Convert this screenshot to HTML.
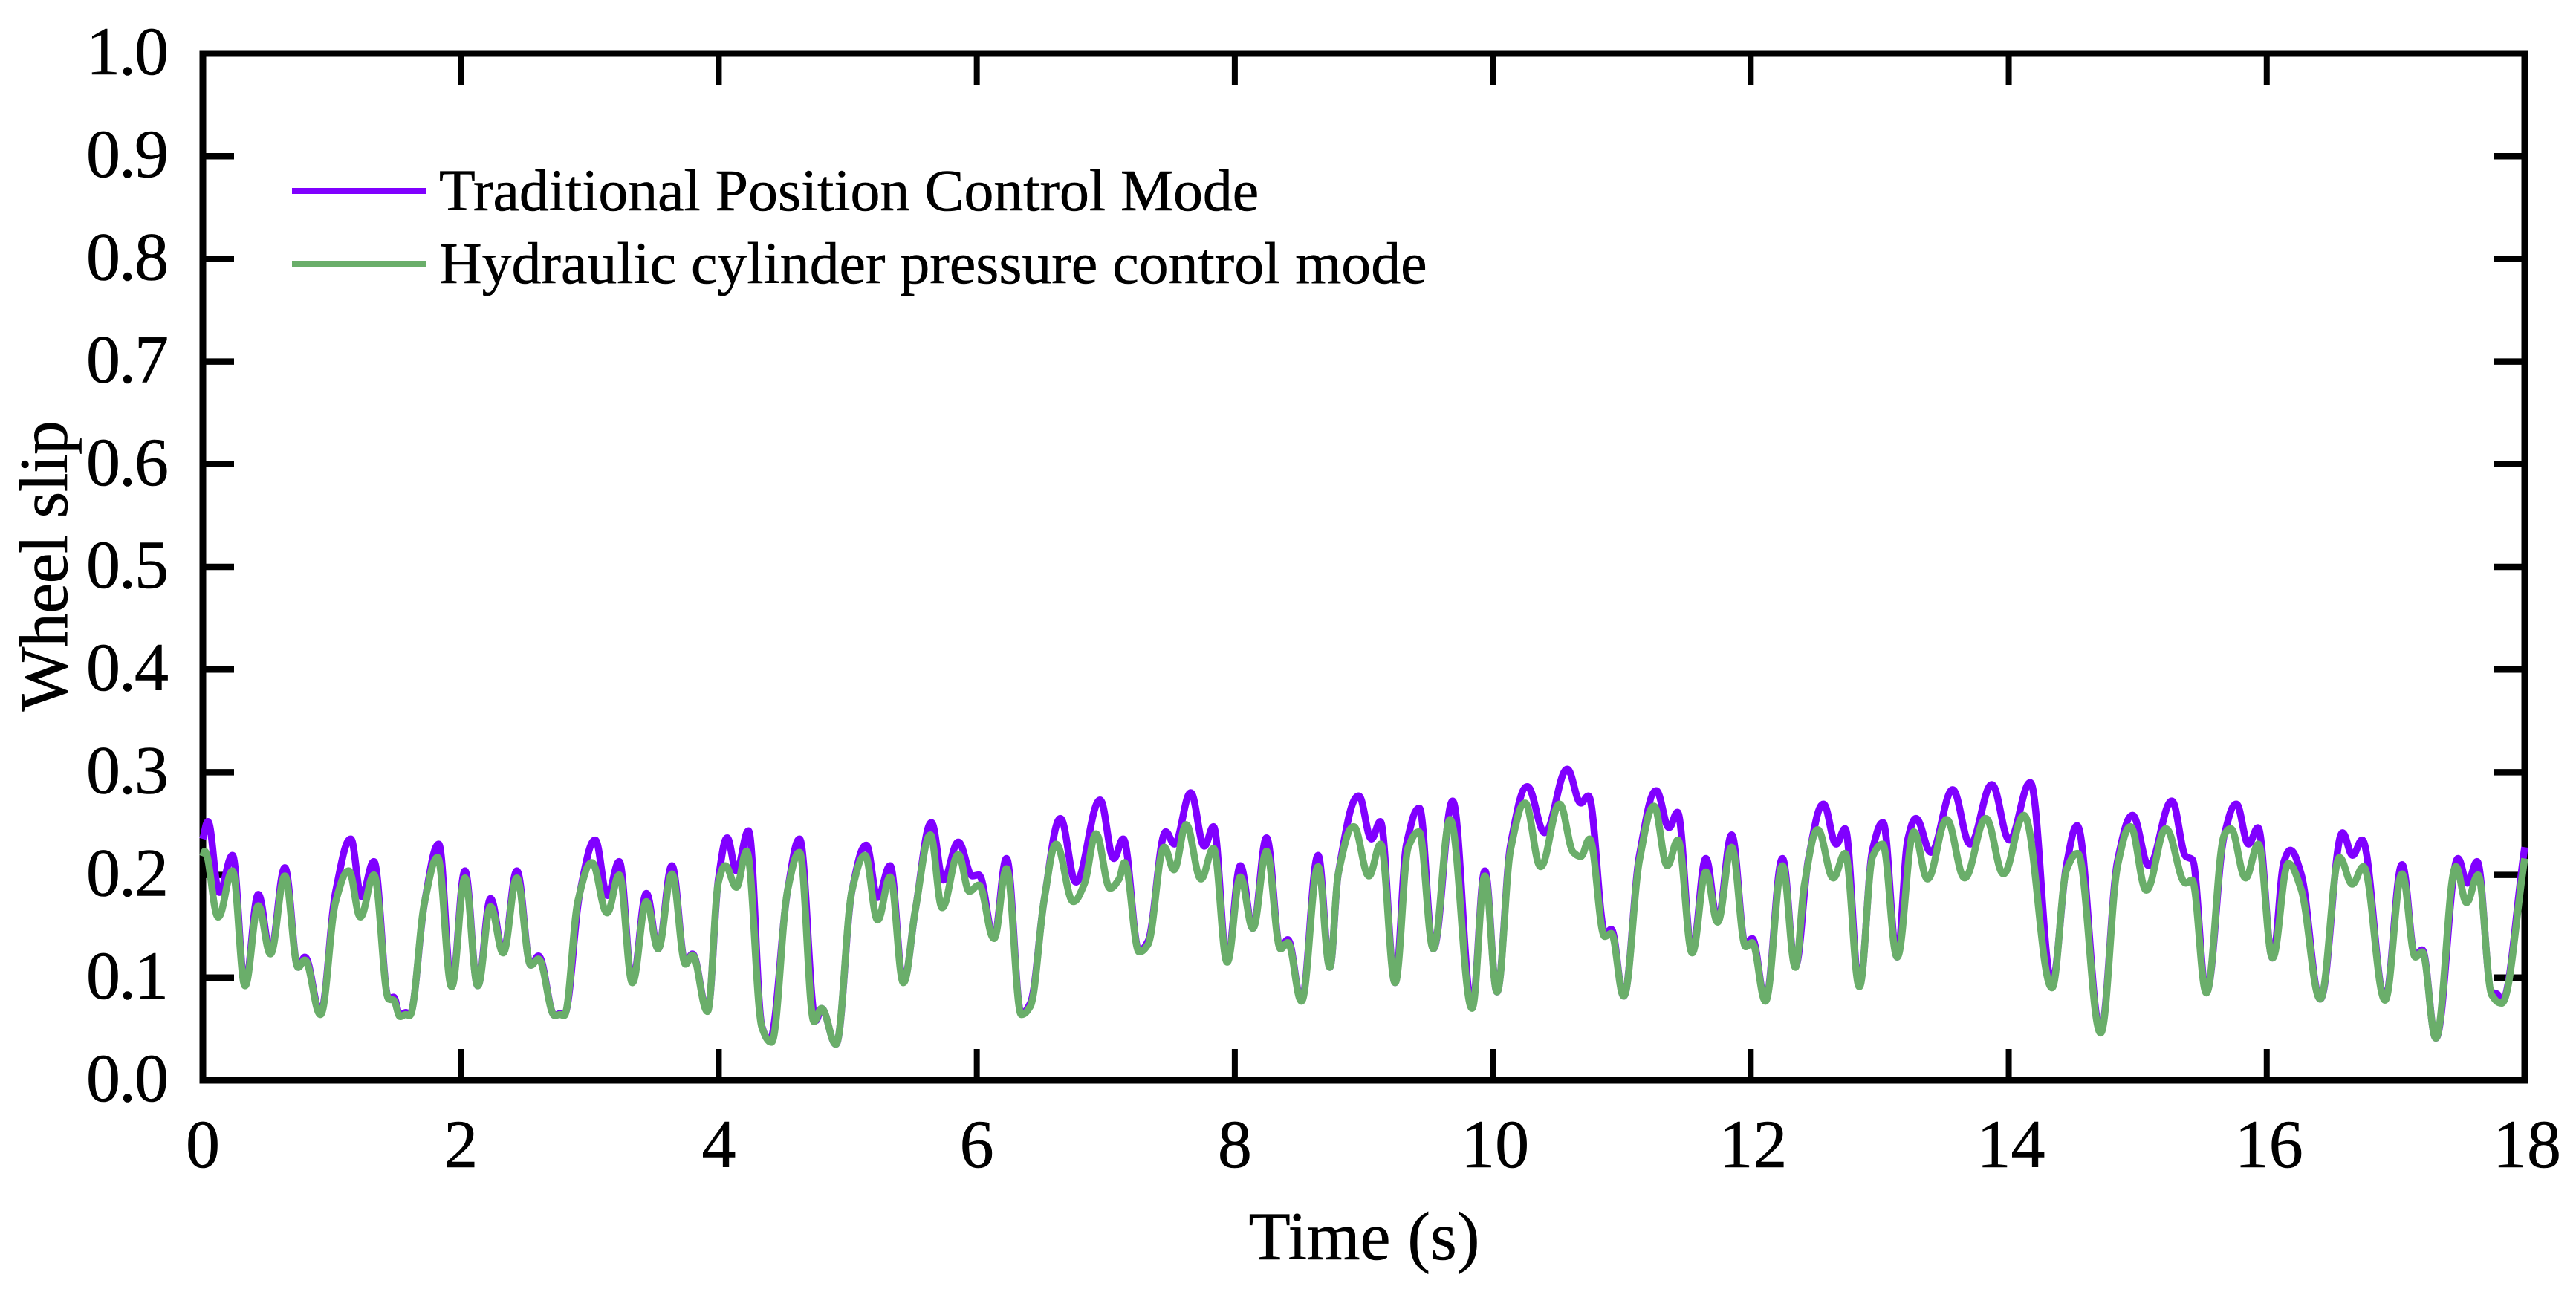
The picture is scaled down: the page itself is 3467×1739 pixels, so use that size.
<!DOCTYPE html>
<html lang="en">
<head>
<meta charset="utf-8">
<title>Wheel slip over time</title>
<style>
  html, body { margin: 0; padding: 0; background: #ffffff; }
  #chart { display: block; width: 3467px; height: 1739px; }
  text { font-family: "Liberation Serif", serif; fill: #000000; stroke: #000000; stroke-width: 0.6px; }
</style>
</head>
<body>
<svg id="chart" xmlns="http://www.w3.org/2000/svg" width="3467" height="1739" viewBox="0 0 3467 1739">
  <rect x="0" y="0" width="3467" height="1739" fill="#ffffff"/>
  <g id="axes"></g>
  <g id="series"></g>
  <g id="legend"></g>
  <text x="1836" y="1695" font-size="92" text-anchor="middle">Time (s)</text>
  <text transform="translate(90 762) rotate(-90)" font-size="92" letter-spacing="-0.5" text-anchor="middle">Wheel slip</text>
</svg>
<script>
const xTickValues = [0, 2, 4, 6, 8, 10, 12, 14, 16, 18];
const xTickLabels = ['0', '2', '4', '6', '8', '10', '12', '14', '16', '18'];
const yTickValues = [0, 0.1, 0.2, 0.3, 0.4, 0.5, 0.6, 0.7, 0.8, 0.9, 1];
const yTickLabels = ['0.0', '0.1', '0.2', '0.3', '0.4', '0.5', '0.6', '0.7', '0.8', '0.9', '1.0'];
const seriesNames = ['Traditional Position Control Mode', 'Hydraulic cylinder pressure control mode'];

const traditionalTime = [0,.039,.127,.230,.327,.430,.524,.636,.739,.791,.912,1.03,1.147,1.229,1.326,1.441,1.479,1.529,1.573,1.603,1.72,1.829,1.929,2.032,2.131,2.231,2.328,2.434,2.543,2.602,2.728,2.769,2.801,2.925,3.042,3.136,3.228,3.330,3.439,3.530,3.636,3.742,3.795,3.912,3.997,4.065,4.136,4.230,4.335,4.394,4.535,4.626,4.752,4.796,4.908,5.034,5.143,5.231,5.328,5.431,5.525,5.648,5.740,5.857,5.966,6.016,6.133,6.230,6.345,6.415,6.524,6.648,6.768,6.956,7.062,7.135,7.259,7.326,7.465,7.532,7.658,7.764,7.835,7.941,8.043,8.140,8.246,8.355,8.411,8.517,8.646,8.737,8.802,8.961,9.060,9.128,9.243,9.331,9.431,9.539,9.689,9.839,9.939,10.033,10.139,10.268,10.403,10.577,10.683,10.741,10.874,10.918,11.015,11.138,11.267,11.367,11.432,11.546,11.652,11.743,11.852,11.961,12.011,12.114,12.246,12.346,12.446,12.563,12.663,12.731,12.842,12.945,13.025,13.135,13.218,13.281,13.397,13.565,13.701,13.869,14.005,14.167,14.335,14.448,14.530,14.712,14.845,14.960,15.086,15.264,15.373,15.423,15.532,15.671,15.764,15.859,15.932,16.045,16.134,16.183,16.266,16.415,16.587,16.666,16.739,16.917,17.049,17.152,17.205,17.311,17.483,17.555,17.631,17.744,17.787,17.820,18];
const traditionalSlip = [.235,.252,.183,.219,.093,.181,.125,.207,.110,.120,.066,.184,.235,.179,.213,.080,.081,.063,.066,.064,.174,.230,.092,.204,.092,.177,.125,.204,.112,.121,.063,.065,.064,.184,.234,.180,.213,.096,.182,.128,.209,.114,.123,.068,.196,.236,.204,.243,.052,.039,.186,.235,.058,.070,.035,.186,.229,.178,.209,.096,.167,.251,.195,.232,.199,.200,.139,.216,.065,.075,.177,.255,.193,.273,.216,.235,.126,.135,.242,.230,.280,.228,.247,.116,.209,.148,.236,.128,.137,.078,.219,.110,.201,.277,.235,.252,.095,.230,.265,.128,.272,.072,.204,.086,.230,.286,.241,.303,.270,.277,.142,.147,.082,.220,.282,.246,.261,.125,.216,.155,.239,.131,.138,.078,.216,.111,.215,.269,.230,.245,.092,.225,.251,.120,.235,.255,.222,.283,.230,.288,.234,.290,.095,.210,.248,.048,.215,.258,.209,.272,.218,.215,.086,.239,.269,.230,.246,.119,.213,.224,.201,.079,.241,.219,.234,.079,.210,.121,.127,.041,.216,.192,.213,.086,.084,.076,.227];

const hydraulicTime = [0,.015,.119,.230,.327,.430,.524,.636,.739,.791,.912,1.03,1.132,1.221,1.326,1.441,1.479,1.529,1.573,1.603,1.72,1.820,1.929,2.032,2.131,2.231,2.328,2.434,2.543,2.602,2.728,2.769,2.801,2.91,3.016,3.134,3.228,3.330,3.439,3.530,3.636,3.742,3.795,3.912,3.997,4.050,4.136,4.215,4.335,4.408,4.535,4.626,4.738,4.796,4.908,5.034,5.134,5.231,5.328,5.431,5.525,5.640,5.731,5.857,5.942,6.016,6.133,6.230,6.345,6.415,6.524,6.615,6.748,6.833,6.924,7.033,7.103,7.144,7.259,7.326,7.453,7.529,7.623,7.738,7.835,7.941,8.043,8.140,8.246,8.355,8.411,8.517,8.646,8.737,8.802,8.922,9.040,9.131,9.243,9.345,9.428,9.539,9.669,9.839,9.939,10.033,10.139,10.251,10.371,10.518,10.624,10.683,10.750,10.868,10.918,11.015,11.138,11.250,11.353,11.435,11.546,11.652,11.743,11.852,11.961,12.011,12.114,12.246,12.346,12.416,12.519,12.640,12.731,12.842,12.945,13.022,13.135,13.264,13.370,13.519,13.658,13.823,13.959,14.117,14.335,14.448,14.534,14.712,14.845,14.944,15.066,15.218,15.373,15.420,15.532,15.671,15.721,15.836,15.935,16.045,16.167,16.266,16.415,16.564,16.663,16.749,16.917,17.049,17.152,17.205,17.311,17.466,17.549,17.638,17.744,17.820,18];
const hydraulicSlip = [.218,.223,.159,.204,.092,.170,.123,.199,.110,.117,.064,.174,.204,.159,.200,.079,.078,.062,.064,.063,.174,.217,.091,.197,.092,.169,.124,.197,.112,.118,.063,.064,.063,.176,.212,.163,.200,.095,.174,.128,.201,.113,.122,.067,.193,.209,.188,.223,.051,.037,.186,.222,.057,.070,.035,.186,.219,.156,.198,.095,.167,.239,.168,.220,.184,.190,.138,.206,.064,.072,.177,.230,.174,.191,.240,.187,.196,.212,.125,.132,.227,.205,.249,.196,.226,.115,.198,.148,.223,.128,.134,.077,.208,.110,.201,.247,.199,.230,.095,.227,.242,.128,.254,.070,.199,.086,.225,.270,.208,.269,.222,.218,.235,.140,.143,.082,.215,.267,.209,.234,.124,.203,.154,.227,.130,.134,.077,.209,.110,.191,.244,.197,.221,.091,.218,.230,.120,.242,.196,.254,.197,.255,.201,.258,.090,.205,.221,.046,.210,.247,.185,.245,.192,.195,.085,.239,.245,.197,.230,.119,.211,.186,.079,.217,.191,.208,.078,.201,.120,.125,.041,.208,.173,.200,.083,.075,.216];

const SVG_NS = 'http://www.w3.org/2000/svg';
const plotLeft = 273, plotRight = 3398, plotTop = 72, plotBottom = 1454;
const xMin = 0, xMax = 18, yMin = 0, yMax = 1;

function xScale(v) { return plotLeft + (v - xMin) / (xMax - xMin) * (plotRight - plotLeft); }
function yScale(v) { return plotBottom - (v - yMin) / (yMax - yMin) * (plotBottom - plotTop); }

function makeEl(tag, parent) {
  const el = document.createElementNS(SVG_NS, tag);
  parent.appendChild(el);
  return el;
}

function smoothPath(ts, vs) {
  const px = ts.map(xScale);
  const py = vs.map(yScale);
  const n = px.length;
  const slope = [];
  for (let i = 0; i < n - 1; i++) slope.push((py[i + 1] - py[i]) / (px[i + 1] - px[i]));
  const tan = new Array(n).fill(0);
  tan[0] = slope[0];
  tan[n - 1] = slope[n - 2];
  for (let i = 1; i < n - 1; i++) {
    if (slope[i - 1] * slope[i] > 0) {
      tan[i] = 2 * slope[i - 1] * slope[i] / (slope[i - 1] + slope[i]);
    }
  }
  let d = 'M' + px[0].toFixed(1) + ' ' + py[0].toFixed(1);
  for (let i = 0; i < n - 1; i++) {
    const h = (px[i + 1] - px[i]) * 0.38;
    d += 'C' + (px[i] + h).toFixed(1) + ' ' + (py[i] + tan[i] * h).toFixed(1) + ' ' +
         (px[i + 1] - h).toFixed(1) + ' ' + (py[i + 1] - tan[i + 1] * h).toFixed(1) + ' ' +
         px[i + 1].toFixed(1) + ' ' + py[i + 1].toFixed(1);
  }
  return d;
}

const axes = document.getElementById('axes');
const TICK_LEN = 42, AXIS_W = 9;

xTickValues.forEach(function (v, i) {
  const x = xScale(v);
  const bottom = makeEl('line', axes);
  
  
  bottom.setAttribute('x1', x); bottom.setAttribute('x2', x);
  bottom.setAttribute('y1', plotBottom); bottom.setAttribute('y2', plotBottom - TICK_LEN);
  bottom.setAttribute('stroke', '#000'); bottom.setAttribute('stroke-width', 8);
  const top = makeEl('line', axes);
  
  
  top.setAttribute('x1', x); top.setAttribute('x2', x);
  top.setAttribute('y1', plotTop); top.setAttribute('y2', plotTop + TICK_LEN);
  top.setAttribute('stroke', '#000'); top.setAttribute('stroke-width', 8);
  const label = makeEl('text', axes);
  
  
  label.setAttribute('x', x + (xTickLabels[i].length > 1 ? 3 : 0));
  label.setAttribute('y', 1571);
  label.setAttribute('font-size', 92);
  label.setAttribute('text-anchor', 'middle');
  label.textContent = xTickLabels[i];
});

yTickValues.forEach(function (v, i) {
  const y = yScale(v);
  const left = makeEl('line', axes);
  
  
  left.setAttribute('x1', plotLeft); left.setAttribute('x2', plotLeft + TICK_LEN);
  left.setAttribute('y1', y); left.setAttribute('y2', y);
  left.setAttribute('stroke', '#000'); left.setAttribute('stroke-width', 8.5);
  const right = makeEl('line', axes);
  
  
  right.setAttribute('x1', plotRight); right.setAttribute('x2', plotRight - TICK_LEN);
  right.setAttribute('y1', y); right.setAttribute('y2', y);
  right.setAttribute('stroke', '#000'); right.setAttribute('stroke-width', 8.5);
  const label = makeEl('text', axes);
  
  
  label.setAttribute('x', 225);
  label.setAttribute('y', y + 28);
  label.setAttribute('font-size', 92);
  label.setAttribute('letter-spacing', '-2');
  label.setAttribute('text-anchor', 'end');
  label.textContent = yTickLabels[i];
});

const frame = makeEl('rect', axes);


frame.setAttribute('x', plotLeft);
frame.setAttribute('y', plotTop);
frame.setAttribute('width', plotRight - plotLeft);
frame.setAttribute('height', plotBottom - plotTop);
frame.setAttribute('fill', 'none');
frame.setAttribute('stroke', '#000');
frame.setAttribute('stroke-width', AXIS_W);

const seriesGroup = document.getElementById('series');

const traditionalLine = makeEl('path', seriesGroup);


traditionalLine.setAttribute('d', smoothPath(traditionalTime, traditionalSlip));
traditionalLine.setAttribute('fill', 'none');
traditionalLine.setAttribute('stroke', '#8000ff');
traditionalLine.setAttribute('stroke-width', 9.5);
traditionalLine.setAttribute('stroke-linejoin', 'round');

const hydraulicLine = makeEl('path', seriesGroup);


hydraulicLine.setAttribute('d', smoothPath(hydraulicTime, hydraulicSlip));
hydraulicLine.setAttribute('fill', 'none');
hydraulicLine.setAttribute('stroke', '#6aae6a');
hydraulicLine.setAttribute('stroke-width', 9.5);
hydraulicLine.setAttribute('stroke-linejoin', 'round');

const legend = document.getElementById('legend');

const legendSwatchA = makeEl('line', legend);


legendSwatchA.setAttribute('x1', 393); legendSwatchA.setAttribute('x2', 573);
legendSwatchA.setAttribute('y1', 257); legendSwatchA.setAttribute('y2', 257);
legendSwatchA.setAttribute('stroke', '#8000ff'); legendSwatchA.setAttribute('stroke-width', 8);

const legendLabelA = makeEl('text', legend);


legendLabelA.setAttribute('x', 591);
legendLabelA.setAttribute('y', 283);
legendLabelA.setAttribute('font-size', 79.8);
legendLabelA.textContent = seriesNames[0];

const legendSwatchB = makeEl('line', legend);


legendSwatchB.setAttribute('x1', 393); legendSwatchB.setAttribute('x2', 573);
legendSwatchB.setAttribute('y1', 355); legendSwatchB.setAttribute('y2', 355);
legendSwatchB.setAttribute('stroke', '#6aae6a'); legendSwatchB.setAttribute('stroke-width', 8);

const legendLabelB = makeEl('text', legend);


legendLabelB.setAttribute('x', 591);
legendLabelB.setAttribute('y', 381);
legendLabelB.setAttribute('font-size', 79.8);
legendLabelB.textContent = seriesNames[1];
</script>
</body>
</html>
